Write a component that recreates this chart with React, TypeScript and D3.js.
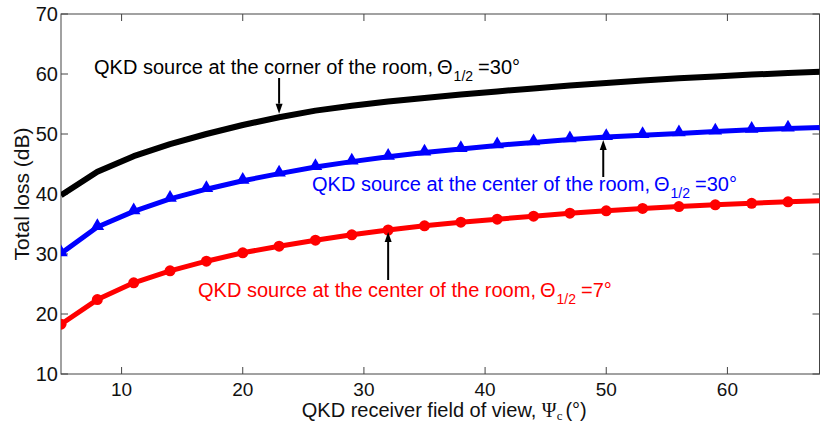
import React from "react";
import * as d3 from "d3";

// Receiver field of view (degrees), sampled every 3°
const fov = [5, 8, 11, 14, 17, 20, 23, 26, 29, 32, 35, 38, 41, 44, 47, 50, 53, 56, 59, 62, 65, 68];

// Total loss (dB) for each configuration
const lossCorner30 = [39.8, 43.7, 46.3, 48.3, 50.0, 51.5, 52.8, 53.9, 54.7, 55.4, 56.0, 56.6, 57.1, 57.6, 58.1, 58.5, 58.9, 59.3, 59.6, 59.9, 60.15, 60.4];
const lossCenter30 = [30.1, 34.5, 37.1, 39.2, 40.8, 42.2, 43.4, 44.5, 45.4, 46.2, 46.9, 47.5, 48.1, 48.6, 49.1, 49.5, 49.8, 50.1, 50.4, 50.7, 50.9, 51.1];
const lossCenter7 = [18.3, 22.4, 25.2, 27.2, 28.8, 30.2, 31.3, 32.3, 33.2, 34.0, 34.7, 35.3, 35.8, 36.3, 36.8, 37.2, 37.6, 37.9, 38.2, 38.45, 38.7, 38.9];

const xTicks = [10, 20, 30, 40, 50, 60];
const yTicks = [10, 20, 30, 40, 50, 60, 70];

const W = 820;
const H = 423;
const L = 61;
const R = 819.5;
const T = 14;
const B = 374;
const FONT = "'Liberation Sans', Arial, Helvetica, sans-serif";
const SERIF = "'Liberation Serif', 'Times New Roman', serif";
const AXIS = "#444";

const x = d3.scaleLinear().domain([5, 67.6]).range([L, R]);
const y = d3.scaleLinear().domain([10, 70]).range([B, T]);

const line = d3
  .line<number>()
  .x((_, i) => x(fov[i]))
  .y((v) => y(v))
  .curve(d3.curveLinear);

function valueAt(series: number[], fx: number) {
  return series[fov.indexOf(fx)];
}

function Arrow({ x0, y0, y1 }: { x0: number; y0: number; y1: number }) {
  // shaft from y0 to the arrow tip at y1
  const dir = y1 > y0 ? 1 : -1;
  const headLen = 10;
  const headHalf = 3.5;
  const baseY = y1 - dir * headLen;
  return (
    <g>
      <line x1={x0} y1={y0} x2={x0} y2={baseY} stroke="#000" strokeWidth={2} />
      <path
        d={`M${x0},${y1} L${x0 - headHalf},${baseY} L${x0 + headHalf},${baseY} Z`}
        fill="#000"
      />
    </g>
  );
}

function Label({
  x0,
  y0,
  color,
  text,
  value,
}: {
  x0: number;
  y0: number;
  color: string;
  text: string;
  value: string;
}) {
  return (
    <text x={x0} y={y0} fill={color} fontFamily={FONT} fontSize={20}>
      <tspan>{text}</tspan>
      <tspan dx={4}>Θ</tspan>
      <tspan dx={1} dy={7} fontSize={14}>
        1/2
      </tspan>
      <tspan dx={5} dy={-7}>
        {value}
      </tspan>
    </text>
  );
}

export default function App() {
  const triangle = d3.symbol().type(d3.symbolTriangle).size(80)() as string;
  const blackX = 23;
  const blueX = 50;
  const redX = 32;

  return (
    <svg
      width={W}
      height={H}
      style={{ position: "absolute", left: 0, top: 0, background: "#fff" }}
    >
      <defs>
        <clipPath id="plot-area">
          <rect x={L} y={T} width={R - L} height={B - T} />
        </clipPath>
      </defs>

      {/* frame */}
      <rect x={L} y={T} width={R - L} height={B - T} fill="none" stroke={AXIS} strokeWidth={1} />

      {/* ticks on all four sides, pointing inward */}
      {xTicks.map((t) => (
        <g key={`xt${t}`}>
          <line x1={x(t)} x2={x(t)} y1={B} y2={B - 7} stroke={AXIS} />
          <line x1={x(t)} x2={x(t)} y1={T} y2={T + 7} stroke={AXIS} />
          <text
            x={x(t)}
            y={B + 22}
            textAnchor="middle"
            fontFamily={FONT}
            fontSize={19}
            fill="#111"
          >
            {t}
          </text>
        </g>
      ))}
      {yTicks.map((t) => (
        <g key={`yt${t}`}>
          <line x1={L} x2={L + 7} y1={y(t)} y2={y(t)} stroke={AXIS} />
          <line x1={R} x2={R - 7} y1={y(t)} y2={y(t)} stroke={AXIS} />
          <text
            x={L - 3}
            y={y(t) + 7}
            textAnchor="end"
            fontFamily={FONT}
            fontSize={20}
            fill="#111"
          >
            {t}
          </text>
        </g>
      ))}

      {/* axis titles */}
      <text
        transform={`translate(29, ${(T + B) / 2}) rotate(-90)`}
        textAnchor="middle"
        fontFamily={FONT}
        fontSize={21}
        fill="#111"
      >
        Total loss (dB)
      </text>
      <text x={(L + R) / 2 + 4} y={417} textAnchor="middle" fontFamily={FONT} fontSize={20} fill="#111">
        <tspan>QKD receiver field of view, </tspan>
        <tspan fontFamily={SERIF}>Ψ</tspan>
        <tspan dy={3} fontSize={13} fontFamily={SERIF}>
          c
        </tspan>
        <tspan dy={-3} dx={3}>
          (°)
        </tspan>
      </text>

      {/* curves */}
      <g clipPath="url(#plot-area)">
        <path d={line(lossCorner30) as string} fill="none" stroke="#000" strokeWidth={6} strokeLinejoin="round" />
        <path d={line(lossCenter30) as string} fill="none" stroke="#0000ff" strokeWidth={5} strokeLinejoin="round" />
        <path d={line(lossCenter7) as string} fill="none" stroke="#ff0000" strokeWidth={5} strokeLinejoin="round" />
        {lossCenter30.map((v, i) => (
          <path
            key={`b${i}`}
            d={triangle}
            transform={`translate(${x(fov[i])},${y(v) - 1})`}
            fill="#0000ff"
          />
        ))}
        {lossCenter7.map((v, i) => (
          <circle key={`r${i}`} cx={x(fov[i])} cy={y(v)} r={5.5} fill="#ff0000" />
        ))}
      </g>

      {/* annotations */}
      <Label x0={94} y0={74} color="#000" text="QKD source at the corner of the room," value="=30°" />
      <Arrow x0={x(blackX)} y0={78} y1={y(valueAt(lossCorner30, blackX)) - 3.5} />

      <Label x0={312} y0={191} color="#0000ff" text="QKD source at the center of the room," value="=30°" />
      <Arrow x0={x(blueX) - 3} y0={177} y1={y(valueAt(lossCenter30, blueX)) + 3} />

      <Label x0={198} y0={297} color="#ff0000" text="QKD source at the center of the room," value="=7°" />
      <Arrow x0={x(redX)} y0={280} y1={y(valueAt(lossCenter7, redX)) + 2} />
    </svg>
  );
}
